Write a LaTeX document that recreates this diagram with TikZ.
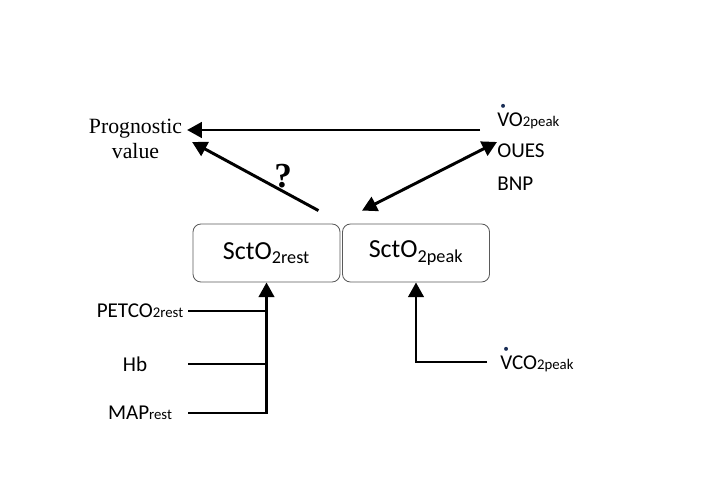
\documentclass[tikz,border=0pt]{standalone}
\usepackage{fontspec}
\setmainfont{Carlito}
\newfontfamily\progfont{Liberation Serif}
\usetikzlibrary{arrows.meta, positioning, calc}
\definecolor{dotblue}{RGB}{25, 45, 85}
\definecolor{boxgray}{RGB}{90, 90, 90}
\newcommand{\smallsub}[1]{{\fontsize{10.5}{12}\selectfont #1}}
\newcommand{\dotV}{\leavevmode\rlap{\hspace{0.15em}\raisebox{0.8em}{\textcolor{dotblue}{\fontsize{8}{8}\selectfont\textbullet}}}V}
\newcommand{\hollow}[1]{\special{pdf:content 1 Tr 0.9 w}#1\special{pdf:content 0 Tr}}

\begin{document}
\begin{tikzpicture}[x=0.025cm, y=-0.025cm,
  box/.style={draw=boxgray, line width=0.6pt, rounded corners=0.2cm, minimum width=3.675cm, minimum height=1.45cm, font=\fontsize{18.5}{22}\selectfont},
  lbl/.style={inner sep=0pt, font=\fontsize{15}{18}\selectfont},
  arr/.style={line width=2.1pt, -{Triangle[length=10.5pt, width=11pt]}},
  dblarr/.style={line width=2.1pt, {Triangle[length=10.5pt, width=11pt]}-{Triangle[length=10.5pt, width=11pt]}},
  feed/.style={line width=2.1pt}]
  \useasboundingbox (0,0) rectangle (720,498);

  % Outcome
  \node[align=center, font=\progfont\fontsize{15.5}{18}\selectfont] (prog) at (135.5,139) {Prognostic\\value};

  % SctO2 boxes
  \node[box] (rest) at (266.5,253) {SctO\textsubscript{2rest}};
  \node[box] (peak) at (416,253) {SctO\textsubscript{2peak}};

  % Exercise variables
  \node[lbl, anchor=west] (vo2) at (497,117) {\dotV O\smallsub{2peak}};
  \node[lbl, anchor=west] (oues) at (497,151) {OUES};
  \node[lbl, anchor=west] (bnp) at (497,184) {BNP};

  % Arrows towards prognostic value
  \coordinate (hstart) at (480,130);
  \draw[arr] (hstart) -- (hstart -| prog.east);
  \draw[arr] ($(rest.north east)+(-22,-13)$) -- ($(prog.east)+(5,3)$)
    node[pos=0.28, above, inner sep=1pt, font=\progfont\bfseries\fontsize{25}{28}\selectfont] (quest) {\hollow{?}};
  \draw[dblarr] ($(peak.north west)+(20,-13)$) -- ($(oues.west)+(0,-9)$);

  % Resting determinants
  \node[lbl] (petco) at (140,311) {PETCO\smallsub{2rest}};
  \node[lbl] (hb) at (135,364) {Hb};
  \node[lbl] (map) at (140,413) {MAP\smallsub{rest}};
  \coordinate (lx) at (188,0);
  \draw[feed] (petco -| lx) -- (petco -| rest.south);
  \draw[feed] (hb -| lx) -- (hb -| rest.south);
  \draw[arr] (map -| lx) -| (rest.south);

  % Peak determinant
  \node[lbl, anchor=west] (vco2) at (500,360) {\dotV CO\smallsub{2peak}};
  \draw[arr] ($(vco2.west)+(-13,2)$) -| (peak.south);
\end{tikzpicture}
\end{document}
